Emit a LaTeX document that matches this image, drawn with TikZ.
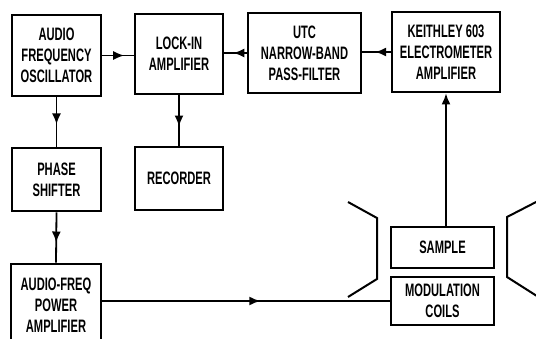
\documentclass[tikz,border=0pt]{standalone}
\usepackage{fontspec}
\newfontfamily\boxfont[FakeStretch=0.62]{Liberation Sans Bold}
\usetikzlibrary{arrows.meta,decorations.markings}

\tikzset{
  blk/.style={draw,line width=2.8pt,align=center,inner sep=0pt,
    font=\boxfont\fontsize{18}{21}\selectfont},
  conn/.style={line width=1.8pt},
  midarrow/.style={conn,postaction={decorate},decoration={markings,
    mark=at position #1 with {\arrow{Latex[length=11pt,width=9pt]}}}},
  pole/.style={line width=2pt}
}

\begin{document}
\begin{tikzpicture}[x=1pt,y=-1pt]
  \clip (0,0) rectangle (536,339);
  % blocks
  \node[blk,minimum width=89pt,minimum height=81pt] (osc) at (56.5,55.5) {AUDIO\\FREQUENCY\\OSCILLATOR};
  \node[blk,minimum width=88pt,minimum height=80pt] (lockin) at (179,54) {LOCK-IN\\AMPLIFIER};
  \node[blk,minimum width=113pt,minimum height=80pt] (utc) at (304.5,53) {UTC\\NARROW-BAND\\PASS-FILTER};
  \node[blk,minimum width=108pt,minimum height=80pt] (keith) at (446,52) {KEITHLEY 603\\ELECTROMETER\\AMPLIFIER};
  \node[blk,minimum width=89pt,minimum height=63pt] (phase) at (56.5,179.5) {PHASE\\SHIFTER};
  \node[blk,minimum width=88pt,minimum height=63pt] (rec) at (179,178.5) {RECORDER};
  \node[blk,minimum width=90pt,minimum height=82pt] (power) at (56,305) {AUDIO-FREQ\\POWER\\AMPLIFIER};
  \node[blk,minimum width=103pt,minimum height=41pt] (sample) at (442.5,247.5) {SAMPLE};
  \node[blk,minimum width=103pt,minimum height=48pt] (coils) at (442.5,301) {MODULATION\\COILS};

  % connectors
  \draw[midarrow=0.7] (osc.east) -- (osc.east -| lockin.west);
  \draw[midarrow=0.6] (utc.west) -- (utc.west -| lockin.east);
  \draw[midarrow=0.55] (keith.west) -- (keith.west -| utc.east);
  \draw[midarrow=0.55] (osc.south) -- (phase.north);
  \draw[midarrow=0.62] (lockin.south) -- (rec.north);
  \draw[midarrow=0.6] (phase.south) -- (power.north);
  \draw[midarrow=0.55] (coils.west -| power.east) -- (coils.west);
  \draw[conn,-{Latex[length=11pt,width=9pt]}] (keith.south |- sample.north) -- (keith.south);

  % magnet pole pieces
  \draw[pole] (348,202) -- (377,218) -- (377,279) -- (348,297);
  \draw[pole] (540,200) -- (507,217) -- (507,277) -- (540,298);
\end{tikzpicture}
\end{document}
